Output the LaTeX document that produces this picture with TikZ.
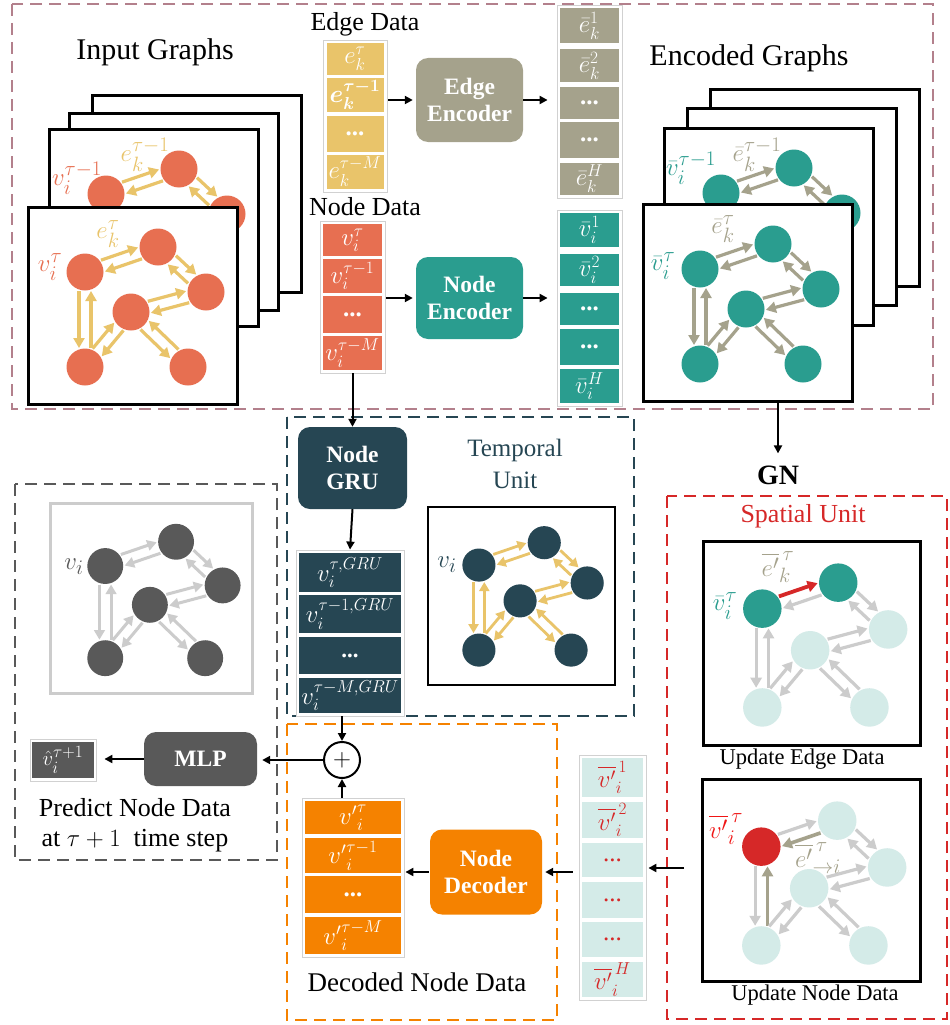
\documentclass[tikz,border=0pt]{standalone}
\usepackage{fontspec}
\setmainfont{Liberation Serif}
\usepackage{amsmath,bm}
\DeclareMathSizes{25}{25}{19}{15}
\DeclareMathSizes{23}{23}{17.5}{14}
\DeclareMathSizes{30}{30}{22.5}{17}
\DeclareMathSizes{22}{22}{17}{13}
\usetikzlibrary{arrows.meta,calc}
\definecolor{cMauve}{HTML}{B3808C}
\definecolor{cYel}{HTML}{E9C46A}
\definecolor{cOr}{HTML}{E76F51}
\definecolor{cTeal}{HTML}{2A9D8F}
\definecolor{cDark}{HTML}{264653}
\definecolor{cOlive}{HTML}{A5A28C}
\definecolor{cOrange}{HTML}{F58200}
\definecolor{cGray}{HTML}{595959}
\definecolor{cLG}{HTML}{CCCCCC}
\definecolor{cCyan}{HTML}{D4EBE8}
\definecolor{cRed}{HTML}{D62828}
\definecolor{cBright}{HTML}{F01515}
\tikzset{
 arr/.style={line width=2pt, -{Triangle[length=8pt,width=8pt]}},
 dbox/.style={line width=2.5pt, dash pattern=on 12pt off 7pt},
 rbox/.style={rounded corners=12pt, text=white, font=\fontsize{23.5}{27.5}\selectfont\bfseries, align=center, inner sep=0pt},
 cellbox/.style={text=white, inner sep=0pt, font=\fontsize{25}{26}\selectfont},
 colbox/.style={draw=black!18, line width=0.8pt, fill=white, inner sep=0pt},
 gframe/.style={draw=black, line width=3pt, fill=white, inner sep=0pt, anchor=north west},
 gnode/.style={circle, inner sep=0pt},
 gfill/.style={fill=cOr},
 gedge/.style={draw=cYel, line width=3.2pt, -{Triangle[length=10pt,width=11pt]}},
 gnv/.style={}, gnt/.style={}, gnr/.style={}, gnm/.style={}, gna/.style={}, gnb/.style={},
 e1f/.style={gedge}, e1b/.style={gedge}, e2f/.style={gedge}, e2b/.style={gedge},
 e3f/.style={gedge}, e3b/.style={gedge}, e4f/.style={gedge}, e4b/.style={gedge},
 e5f/.style={gedge}, e5b/.style={gedge}, e6f/.style={gedge}, e6b/.style={gedge},
 glab/.style={inner sep=0pt, font=\fontsize{30}{30}\selectfont},
 title/.style={inner sep=0pt, font=\fontsize{26}{30}\selectfont},
}
\newcommand\mkGN[4]{\pgfmathsetmacro\gpx{\gox+#2*\gsc}\pgfmathsetmacro\gpy{\goy+#3*\gsc}\pgfmathsetmacro\gpd{37*\gsc}%
 \node[gnode, gfill, #4, minimum size=\gpd pt] (#1) at (\gpx,\gpy) {};}
\newcommand\mkgraph[4]{\def\gox{#2}\def\goy{#3}\def\gsc{#4}%
 \mkGN{#1v}{58}{66}{gnv}\mkGN{#1t}{131}{41}{gnt}\mkGN{#1r}{179}{86}{gnr}%
 \mkGN{#1m}{104}{106}{gnm}\mkGN{#1a}{58}{161}{gna}\mkGN{#1b}{161}{161}{gnb}}
\newcommand\gpair[6]{%
 \draw[#5] ($($(#1)!\gR!(#2)$)!\gD!#3:(#2)$) -- ($($(#2)!\gR!(#1)$)!\gD!#4:(#1)$);
 \draw[#6] ($($(#2)!\gR!(#1)$)!\gD!#3:(#1)$) -- ($($(#1)!\gR!(#2)$)!\gD!#4:(#2)$);}
\newcommand\mkedges[1]{%
 \gpair{#1v}{#1t}{90}{-90}{e1f}{e1b}
 \gpair{#1t}{#1r}{90}{-90}{e2f}{e2b}
 \gpair{#1m}{#1r}{90}{-90}{e3f}{e3b}
 \gpair{#1v}{#1a}{-90}{90}{e4f}{e4b}
 \gpair{#1a}{#1m}{90}{-90}{e5f}{e5b}
 \gpair{#1m}{#1b}{-90}{90}{e6f}{e6b}}
\newcommand\cellat[7]{\node[cellbox, fill=#6, minimum width=#4pt, minimum height=#5pt] (#1) at (#2,#3) {#7};}
\begin{document}
\begin{tikzpicture}[x=1pt,y=-1pt]
\useasboundingbox (0,0) rectangle (950,1025);
% dashed containers
\draw[dbox, draw=cMauve] (12,4) rectangle (933,409);
\draw[dbox, draw=cDark] (287,417) rectangle (634,716);
\draw[dbox, draw=cGray] (15,484) rectangle (277,860);
\draw[dbox, draw=cOrange] (287,724) rectangle (557,1020);
\draw[dbox, draw=cRed] (667,496) rectangle (947,1019);

% titles
\node[inner sep=0pt, font=\fontsize{30}{34}\selectfont] (tin) at (155,52) {Input Graphs};
\node[title] (ted) at (365,24) {Edge Data};
\node[title] (tnd) at (365,207) {Node Data};
\node[inner sep=0pt, font=\fontsize{30}{34}\selectfont] (ten) at (749,58) {Encoded Graphs};
\node[inner sep=0pt, font=\fontsize{28}{30}\selectfont\bfseries] (gn) at (778,475) {GN};
\node[inner sep=0pt, font=\fontsize{25}{32}\selectfont, text=cDark, align=center] (ttu) at (515,464) {Temporal\\Unit};
\node[title, text=cRed] (tsu) at (803,516) {Spatial Unit};
\node[inner sep=0pt, font=\fontsize{22.5}{26}\selectfont] (tue) at (802,759) {Update Edge Data};
\node[inner sep=0pt, font=\fontsize{22.5}{26}\selectfont] (tun) at (815,995) {Update Node Data};
\node[inner sep=0pt, font=\fontsize{27}{30}\selectfont] (tdn) at (417,982) {Decoded Node Data};
\node[inner sep=0pt, font=\fontsize{26}{30}\selectfont, align=center] (tpr) at (135,825) {Predict Node Data\\at $\tau+1$\ \ time step};

% ---------- Input graphs ----------
\begin{scope}
\def\gR{19pt}\def\gD{6pt}
\node[gframe, minimum width=209pt, minimum height=197pt] (inF1) at (91,94) {};
\node[gframe, minimum width=209pt, minimum height=197pt] (inF2) at (68,112) {};
\node[gframe, minimum width=209pt, minimum height=197pt] (inF3) at (48,128) {};
\mkgraph{i3}{48}{128}{1}
\mkedges{i3}
\node[glab, text=cOr] (li3v) at (77,178) {$v_i^{\tau-1}$};
\node[glab, text=cYel] (li3e) at (145,155) {$e_k^{\tau-1}$};
\node[gframe, minimum width=209pt, minimum height=197pt] (inF4) at (27,206) {};
\mkgraph{i4}{27}{206}{1}
\mkedges{i4}
\node[glab, text=cOr] (li4v) at (50,267) {$v_i^{\tau}$};
\node[glab, text=cYel] (li4e) at (108,234) {$e_k^{\tau}$};
\end{scope}

% ---------- Encoded graphs ----------
\begin{scope}[gfill/.style={fill=cTeal}, gedge/.style={draw=cOlive, line width=3.2pt, -{Triangle[length=10pt,width=11pt]}}]
\def\gR{19pt}\def\gD{6pt}
\node[gframe, minimum width=209pt, minimum height=197pt] (enF1) at (709,88) {};
\node[gframe, minimum width=209pt, minimum height=197pt] (enF2) at (686,107) {};
\node[gframe, minimum width=209pt, minimum height=197pt] (enF3) at (663,127) {};
\mkgraph{e3}{663}{127}{1}
\mkedges{e3}
\node[glab, text=cTeal] (le3v) at (691,168) {$\bar v_i^{\tau-1}$};
\node[glab, text=cOlive] (le3e) at (757,155) {$\bar e_k^{\tau-1}$};
\node[gframe, minimum width=209pt, minimum height=197pt] (enF4) at (642,203) {};
\mkgraph{e4}{642}{203}{1}
\mkedges{e4}
\node[glab, text=cTeal] (le4v) at (663,266) {$\bar v_i^{\tau}$};
\node[glab, text=cOlive] (le4e) at (723,229) {$\bar e_k^{\tau}$};
\end{scope}

% ---------- Temporal unit graph ----------
\begin{scope}[gfill/.style={fill=cDark}, gedge/.style={draw=cYel, line width=2.8pt, -{Triangle[length=9pt,width=10pt]}}]
\def\gR{17pt}\def\gD{5.4pt}
\node[gframe, line width=2pt, minimum width=187pt, minimum height=178pt] (tF) at (427,506) {};
\mkgraph{tg}{427}{506}{0.895}
\mkedges{tg}
\node[glab, text=cDark] (ltv) at (447,565) {$v_i$};
\end{scope}

% ---------- Prediction graph ----------
\begin{scope}[gfill/.style={fill=cGray}, gedge/.style={draw=cLG, line width=3pt, -{Triangle[length=9.5pt,width=10.5pt]}}]
\def\gR{18.5pt}\def\gD{5.8pt}
\node[gframe, draw=cLG, minimum width=202pt, minimum height=190pt] (pF) at (49,502) {};
\mkgraph{pg}{49}{502}{0.97}
\mkedges{pg}
\node[glab, text=cGray] (lpv) at (74,567) {$v_i$};
\end{scope}

% ---------- Spatial: update edge ----------
\begin{scope}[gfill/.style={fill=cCyan}, gnv/.style={fill=cTeal}, gnt/.style={fill=cTeal},
  gedge/.style={draw=cLG, line width=3.2pt, -{Triangle[length=10pt,width=11pt]}},
  e1f/.style={gedge, draw=cRed, line width=3.8pt}]
\def\gR{19.7pt}\def\gD{6.2pt}
\node[gframe, minimum width=217pt, minimum height=204pt] (ueF) at (702,540) {};
\mkgraph{ue}{702}{540}{1.04}
\mkedges{ue}
\node[glab, text=cTeal] (luev) at (725,606) {$\bar v_i^{\tau}$};
\node[glab, text=cOlive] (luee) at (778,567) {$\overline{e'}^{\,\tau}_{k}$};
\end{scope}

% ---------- Spatial: update node ----------
\begin{scope}[gfill/.style={fill=cCyan}, gnv/.style={fill=cRed},
  gedge/.style={draw=cLG, line width=3.2pt, -{Triangle[length=10pt,width=11pt]}},
  e1b/.style={gedge, draw=cOlive, line width=3.6pt}, e4b/.style={gedge, draw=cOlive, line width=3.6pt}]
\def\gR{19.7pt}\def\gD{6.2pt}
\node[gframe, minimum width=218pt, minimum height=202pt] (unF) at (701,778) {};
\mkgraph{un}{701}{778}{1.04}
\mkedges{un}
\node[glab, text=cBright] (lunv) at (726,829) {$\overline{v'}^{\,\tau}_{i}$};
\node[glab, text=cOlive] (lune) at (818,858) {$\overline{e'}^{\,\tau}_{\to i}$};
\end{scope}

% ---------- Columns ----------
\node[colbox, minimum width=64pt, minimum height=152pt] (ecol) at (355,116) {};
\cellat{ed1}{355}{59}{57}{32}{cYel}{$e_k^{\tau}$}
\cellat{ed2}{355}{95}{57}{34}{cYel}{$\bm{e_k^{\tau-1}}$}
\cellat{ed3}{355}{133.5}{57}{36}{cYel}{\textbf{...}}
\cellat{ed4}{355}{171.5}{57}{34}{cYel}{$e_k^{\tau-M}$}

\node[colbox, minimum width=65pt, minimum height=152pt] (ncol) at (352.5,297) {};
\cellat{nd1}{352.5}{240}{59}{32}{cOr}{$v_i^{\tau}$}
\cellat{nd2}{352.5}{276}{59}{34}{cOr}{$v_i^{\tau-1}$}
\cellat{nd3}{352.5}{314.5}{59}{37}{cOr}{\textbf{...}}
\cellat{nd4}{352.5}{353}{59}{34}{cOr}{$v_i^{\tau-M}$}

\node[colbox, minimum width=65pt, minimum height=193pt] (eocol) at (589.5,101.5) {};
\cellat{eo1}{589.5}{25.5}{59}{35}{cOlive}{$\bar e_k^{1}$}
\cellat{eo2}{589.5}{65.5}{59}{33}{cOlive}{$\bar e_k^{2}$}
\cellat{eo3}{589.5}{103}{59}{32}{cOlive}{\textbf{...}}
\cellat{eo4}{589.5}{140}{59}{36}{cOlive}{\textbf{...}}
\cellat{eo5}{589.5}{179}{59}{32}{cOlive}{$\bar e_k^{H}$}

\node[colbox, minimum width=65pt, minimum height=196pt] (nocol) at (589.5,308) {};
\cellat{no1}{589.5}{230}{59}{34}{cTeal}{$\bar v_i^{1}$}
\cellat{no2}{589.5}{270}{59}{32}{cTeal}{$\bar v_i^{2}$}
\cellat{no3}{589.5}{309}{59}{32}{cTeal}{\textbf{...}}
\cellat{no4}{589.5}{347}{59}{36}{cTeal}{\textbf{...}}
\cellat{no5}{589.5}{386}{59}{34}{cTeal}{$\bar v_i^{H}$}

\node[colbox, minimum width=108pt, minimum height=166pt] (gcol) at (350,633) {};
\begin{scope}[cellbox/.append style={font=\fontsize{23}{24}\selectfont}]
\cellat{gc1}{350}{572.5}{102}{39}{cDark}{$v_i^{\tau,GRU}$}
\cellat{gc2}{350}{614}{102}{38}{cDark}{$v_i^{\tau-1,GRU}$}
\cellat{gc3}{350}{655.5}{102}{37}{cDark}{\textbf{...}}
\cellat{gc4}{350}{695.5}{102}{35}{cDark}{$v_i^{\tau-M,GRU}$}
\end{scope}

\node[colbox, minimum width=102pt, minimum height=159pt] (dcol) at (353,877.5) {};
\cellat{dc1}{353}{817.5}{96}{33}{cOrange}{${v'}_i^{\tau}$}
\cellat{dc2}{353}{855.5}{96}{35}{cOrange}{${v'}_i^{\tau-1}$}
\cellat{dc3}{353}{894.5}{96}{37}{cOrange}{\textbf{...}}
\cellat{dc4}{353}{935.5}{96}{37}{cOrange}{${v'}_i^{\tau-M}$}

\node[colbox, minimum width=67pt, minimum height=245pt] (ucol) at (612.5,877.5) {};
\begin{scope}[cellbox/.append style={text=cRed}]
\cellat{uc1}{612.5}{777.5}{61}{39}{cCyan}{$\overline{v'}^{\,1}_{i}$}
\cellat{uc2}{612.5}{820}{61}{36}{cCyan}{$\overline{v'}^{\,2}_{i}$}
\cellat{uc3}{612.5}{860}{61}{34}{cCyan}{...}
\cellat{uc4}{612.5}{900}{61}{36}{cCyan}{...}
\cellat{uc5}{612.5}{939.5}{61}{35}{cCyan}{...}
\cellat{uc6}{612.5}{979.5}{61}{35}{cCyan}{$\overline{v'}^{\,H}_{i}$}
\end{scope}

\node[colbox, minimum width=66pt, minimum height=42pt] (outb) at (63,760) {};
\node[cellbox, fill=cGray, minimum width=62pt, minimum height=36pt, font=\fontsize{22}{24}\selectfont] (outc) at (63,760) {$\hat v_i^{\tau+1}$};

% ---------- Boxes ----------
\node[rbox, fill=cOlive, minimum width=107pt, minimum height=84pt] (eenc) at (469.5,100) {Edge\\Encoder};
\node[rbox, fill=cTeal, minimum width=107pt, minimum height=82pt] (nenc) at (469.5,298) {Node\\Encoder};
\node[rbox, fill=cDark, minimum width=109pt, minimum height=82pt] (gru) at (352.5,468) {Node\\GRU};
\node[rbox, fill=cGray, minimum width=113pt, minimum height=54pt] (mlp) at (200.5,759) {MLP};
\node[rbox, fill=cOrange, minimum width=112pt, minimum height=85pt] (dec) at (486,872) {Node\\Decoder};
\node[circle, draw, line width=2pt, minimum size=36pt, inner sep=0pt, font=\fontsize{26}{26}\selectfont] (plus) at (342,760) {$+$};
\coordinate (spout) at (684,868);

% ---------- Connectors ----------
\draw[arr, shorten <=1pt, shorten >=3pt] (ecol.east |- eenc.west) -- (eenc.west);
\draw[arr, shorten >=9pt] (eenc.east) -- (eenc.east -| eocol.west);
\draw[arr, shorten <=1pt, shorten >=3pt] (ncol.east |- nenc.west) -- (nenc.west);
\draw[arr, shorten >=9pt] (nenc.east) -- (nenc.east -| nocol.west);
\draw[arr] (ncol.south) -- (gru.north);
\draw[arr] (enF4.south -| gn) -- ([yshift=12pt]gn.north);
\draw[arr] (gru.south) -- (gcol.north);
\draw[arr] (gcol.south -| plus) -- (plus.north);
\draw[arr] (dcol.north -| plus) -- (plus.south);
\draw[arr, shorten >=5pt] (plus.west) -- (plus.west -| mlp.east);
\draw[arr, shorten >=8pt] (mlp.west) -- (mlp.west -| outb.east);
\draw[arr, shorten >=2pt] (spout) -- (spout -| ucol.east);
\draw[arr, shorten <=6pt, shorten >=3pt] (ucol.west |- dec.east) -- (dec.east);
\draw[arr, shorten <=1pt, shorten >=1pt] (dec.west) -- (dec.west -| dcol.east);
\end{tikzpicture}
\end{document}
